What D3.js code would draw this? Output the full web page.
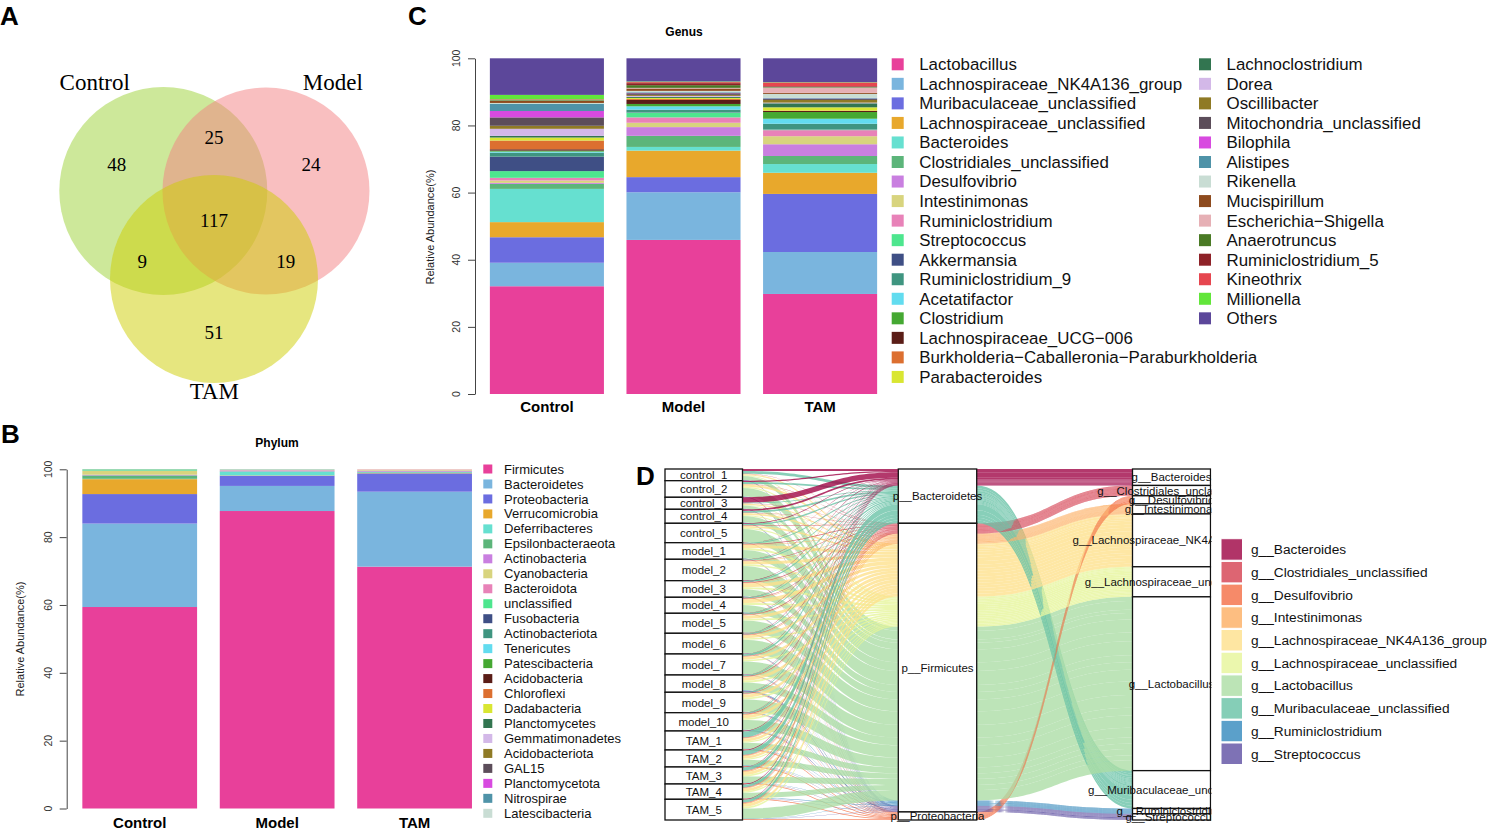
<!DOCTYPE html>
<html>
<head>
<meta charset="utf-8">
<script src="https://cdn.jsdelivr.net/npm/d3@7"></script>
<style>
body{margin:0;background:#fff;}
svg{display:block;font-family:"Liberation Sans",Arial,Helvetica,sans-serif;}
</style>
</head>
<body>
<div id="fig"></div>
<script>
// ---------------- data ----------------
// A: venn
var vennSets = ["Control","Model","TAM"];
var vennRegions = ["C","CM","M","CMT","CT","MT","T"];
var vennCounts = [48,25,24,117,9,19,51];

// B + C: stacked bars
var groups = ["Control","Model","TAM"];

var phylumNames = ["Firmicutes","Bacteroidetes","Proteobacteria","Verrucomicrobia","Deferribacteres","Epsilonbacteraeota","Actinobacteria","Cyanobacteria","Bacteroidota","unclassified","Fusobacteria","Actinobacteriota","Tenericutes","Patescibacteria","Acidobacteria","Chloroflexi","Dadabacteria","Planctomycetes","Gemmatimonadetes","Acidobacteriota","GAL15","Planctomycetota","Nitrospirae","Latescibacteria"];
var phylumControl = [59.4,24.6,8.7,4.4,0.1,1.0,0.2,1.1,0.1,0.2,0,0,0.1,0.1,0,0,0,0,0,0,0,0,0,0];
var phylumModel   = [87.7,7.4,3.0,0.1,1.1,0.1,0.3,0.1,0.1,0.1,0,0,0,0,0,0,0,0,0,0,0,0,0,0];
var phylumTAM     = [71.3,22.1,5.4,0.1,0.2,0.2,0.3,0.3,0.1,0,0,0,0,0,0,0,0,0,0,0,0,0,0,0];

var genusNames = ["Lactobacillus","Lachnospiraceae_NK4A136_group","Muribaculaceae_unclassified","Lachnospiraceae_unclassified","Bacteroides","Clostridiales_unclassified","Desulfovibrio","Intestinimonas","Ruminiclostridium","Streptococcus","Akkermansia","Ruminiclostridium_9","Acetatifactor","Clostridium","Lachnospiraceae_UCG\u2212006","Burkholderia\u2212Caballeronia\u2212Paraburkholderia","Parabacteroides","Lachnoclostridium","Dorea","Oscillibacter","Mitochondria_unclassified","Bilophila","Alistipes","Rikenella","Mucispirillum","Escherichia\u2212Shigella","Anaerotruncus","Ruminiclostridium_5","Kineothrix","Millionella","Others"];
var genusControl = [32.1,7.0,7.6,4.5,9.9,1.5,0.3,0.7,0.8,2.0,4.3,1.2,0.3,0.3,0.4,2.6,0.9,0.5,2.1,0.9,2.5,1.9,2.1,0.3,0.6,0.1,0.2,0.1,0.1,1.3,10.9];
var genusModel   = [45.9,14.2,4.5,7.9,1.1,3.3,2.6,1.3,1.6,1.4,0.1,0.8,1.0,0.7,1.2,0.3,0.3,0.3,0.3,0.3,0.5,0.1,0.2,0.4,0.7,0.2,0.8,0.6,0.3,0.2,6.9];
var genusTAM     = [29.8,12.5,17.3,6.3,2.6,2.4,3.5,2.4,1.8,0.2,0.1,1.6,1.5,2.0,0.3,0.1,1.0,1.2,0.2,0.8,0.3,0.1,0.2,1.2,0.3,1.6,0.2,0.2,1.1,0.1,7.1];

var palette = ["#e8409a","#7ab5de","#6b6de0","#e8a82c","#66e0d0","#5cb57a","#c97fe0","#d8d47e","#e882b8","#4de68e","#3f4f85","#3f9580","#62dcef","#45a832","#5a1d17","#dc6f30","#d9e632","#327550","#d3b8e8","#8f7a25","#5c4d5a","#d84ae0","#4f93a8","#c9ddd4","#8e4b1e","#e6b0b5","#4a7a25","#8e2228","#e6464f","#62e63a","#5c479a"];

// D: alluvial sample -> phylum -> genus
var samples = ["control_1","control_2","control_3","control_4","control_5","model_1","model_2","model_3","model_4","model_5","model_6","model_7","model_8","model_9","model_10","TAM_1","TAM_2","TAM_3","TAM_4","TAM_5"];
var flowGenera = ["Bacteroides","Clostridiales_unclassified","Desulfovibrio","Intestinimonas","Lachnospiraceae_NK4A136_group","Lachnospiraceae_unclassified","Lactobacillus","Muribaculaceae_unclassified","Ruminiclostridium","Streptococcus"];
var flowPhylum = ["Bacteroidetes","Firmicutes","Proteobacteria","Firmicutes","Firmicutes","Firmicutes","Firmicutes","Bacteroidetes","Firmicutes","Firmicutes"];
var phylaD = ["Bacteroidetes","Firmicutes","Proteobacteria"];
// rows = samples, columns = flowGenera (%)
var sampleAbund = [
  [8.5,1.2,0.2,0.6,5.1,3.2,18.4,12.6,0.9,1.5],
  [6.2,1.8,0.4,0.9,9.5,5.6,38.7,8.4,0.7,1.9],
  [24.3,1.1,0.3,0.5,4.8,2.9,14.6,3.2,0.6,1.3],
  [7.4,1.6,0.2,0.8,7.3,4.7,29.5,7.9,1.0,2.1],
  [3.1,1.8,0.4,0.7,8.2,6.1,58.3,5.9,0.8,1.3],
  [0.8,2.9,1.5,2.4,13.6,8.2,38.5,4.3,0.9,1.0],
  [1.2,2.6,1.4,2.1,12.8,7.1,62.4,3.9,0.8,1.2],
  [1.6,3.4,2.8,2.9,15.9,9.3,31.2,5.1,1.1,0.8],
  [0.9,2.7,1.6,2.2,16.4,8.7,33.5,3.6,1.0,0.8],
  [1.0,2.5,1.9,2.6,14.1,7.6,53.2,4.4,0.9,1.1],
  [1.3,2.4,1.2,2.3,11.8,6.9,60.1,4.2,1.0,1.2],
  [1.1,2.3,1.3,2.5,12.6,7.3,56.8,7.4,1.2,1.3],
  [1.4,3.1,2.4,2.8,14.3,8.4,34.6,3.8,2.7,3.7],
  [0.9,2.2,1.7,2.4,13.9,7.8,54.9,4.6,1.2,1.5],
  [0.8,2.9,2.2,2.8,13.7,7.9,43.6,4.6,1.2,2.0],
  [2.4,2.1,3.2,3.4,11.8,6.2,26.5,26.8,1.5,0.9],
  [2.9,2.4,3.6,3.1,10.9,5.8,24.7,19.5,1.8,1.2],
  [2.1,2.5,3.1,3.6,13.4,7.1,27.3,14.2,1.6,1.0],
  [3.3,2.2,3.4,2.9,12.6,6.4,22.8,12.1,1.5,1.1],
  [2.3,2.3,3.2,3.5,13.3,7.0,46.2,12.4,1.4,0.8]
];
var spectral = ["#9E0142","#D53E4F","#F46D43","#FDAE61","#FEE08B","#E6F598","#ABDDA4","#66C2A5","#3288BD","#5E4FA2"];

// ---------------- svg ----------------
var svg = d3.select("#fig").append("svg").attr("width",1490).attr("height",831);

// panel letters
var letters = [["A",0,25],["B",1,443],["C",408,25],["D",636,485]];
svg.selectAll("text.letter").data(letters).join("text")
  .attr("class","letter").text(d => d[0]).attr("x", d => d[1]).attr("y", d => d[2])
  .attr("font-size",26).attr("font-weight","bold");

// ---- A: venn ----
var gA = svg.append("g").attr("font-family","'Liberation Serif','Times New Roman',serif");
var circles = [
  {set:"Control", cx:163.3, cy:191, r:104,   fill:"#9bd135"},
  {set:"Model",   cx:266,   cy:191, r:103.5, fill:"#f37f81"},
  {set:"TAM",     cx:214,   cy:279, r:104,   fill:"#cdcd00"}
];
gA.selectAll("circle").data(circles).join("circle")
  .attr("cx", d => d.cx).attr("cy", d => d.cy).attr("r", d => d.r)
  .attr("fill", d => d.fill).attr("fill-opacity",0.5);
var setLabelPos = {Control:[94.7,89.5], Model:[332.8,89.5], TAM:[214.3,399]};
gA.selectAll("text.set").data(vennSets).join("text").attr("class","set")
  .text(d => d).attr("x", d => setLabelPos[d][0]).attr("y", d => setLabelPos[d][1])
  .attr("text-anchor","middle").attr("font-size",23);
var regionPos = {C:[116.7,164.3], CM:[214,137.7], M:[311,164.3], CMT:[214,220.3], CT:[142.3,261.7], MT:[285.7,261.7], T:[214,332.7]};
gA.selectAll("text.cnt").data(vennRegions).join("text").attr("class","cnt")
  .text((d,i) => vennCounts[i]).attr("x", d => regionPos[d][0]).attr("y", d => regionPos[d][1])
  .attr("dy","0.35em").attr("text-anchor","middle").attr("font-size",19);

// ---- stacked bar helper (B and C) ----
function stackedBars(g, names, values, xRange, yRange, axisX, tickX, labelX, labelY, catY){
  var x = d3.scaleBand().domain(groups).range(xRange).paddingInner(0.165).paddingOuter(0.0825);
  var y = d3.scaleLinear().domain([0,100]).range(yRange);
  var rows = groups.map(function(grp,i){
    var o = {group:grp};
    names.forEach(function(n,j){ o[n] = values[i][j]; });
    return o;
  });
  var series = d3.stack().keys(names)(rows);
  g.append("g").selectAll("g").data(series).join("g")
    .attr("fill", (d,i) => palette[i])
    .selectAll("rect").data(d => d).join("rect")
    .attr("x", d => x(d.data.group)).attr("width", x.bandwidth())
    .attr("y", d => y(d[1])).attr("height", d => Math.max(0, y(d[0]) - y(d[1])));

  // y axis
  var ticks = [0,20,40,60,80,100];
  var ax = g.append("g").attr("transform","translate("+axisX+",0)")
    .call(d3.axisLeft(y).tickValues(ticks).tickSize(7).tickSizeOuter(0).tickFormat(""));
  ax.select(".domain").attr("stroke","#444");
  ax.selectAll(".tick line").attr("stroke","#444");
  g.selectAll("text.yt").data(ticks).join("text").attr("class","yt")
    .text(d => d)
    .attr("transform", d => "translate("+tickX+","+y(d)+") rotate(-90)")
    .attr("dy","0.35em").attr("text-anchor","middle").attr("font-size",10.5).attr("fill","#333");
  g.append("text").text("Relative Abundance(%)")
    .attr("transform","translate("+labelX+","+labelY+") rotate(-90)")
    .attr("dy","0.35em").attr("text-anchor","middle").attr("font-size",11).attr("fill","#222");
  // categories
  g.selectAll("text.cat").data(groups).join("text").attr("class","cat")
    .text(d => d).attr("x", d => x(d) + x.bandwidth()/2).attr("y", catY)
    .attr("text-anchor","middle").attr("font-size",15).attr("font-weight","bold");
}

// ---- B: phylum ----
var gB = svg.append("g");
stackedBars(gB, phylumNames, [phylumControl, phylumModel, phylumTAM], [71,483.3], [808.5,469.3], 66.7, 48, 20, 639, 828);
gB.append("text").text("Phylum").attr("x",277).attr("y",447).attr("text-anchor","middle")
  .attr("font-size",12).attr("font-weight","bold");
var legB = gB.append("g").selectAll("g").data(phylumNames).join("g")
  .attr("transform", (d,i) => "translate(483.3,"+(469 + i*14.97)+")");
legB.append("rect").attr("x",0).attr("y",-4.5).attr("width",9).attr("height",9).attr("fill",(d,i) => palette[i]);
legB.append("text").text(d => d).attr("x",20.7).attr("dy","0.35em").attr("font-size",13).attr("fill","#111");

// ---- C: genus ----
var gC = svg.append("g");
stackedBars(gC, genusNames, [genusControl, genusModel, genusTAM], [478.6,888.4], [394,58.3], 475, 456, 430, 227, 412);
gC.append("text").text("Genus").attr("x",684).attr("y",36).attr("text-anchor","middle")
  .attr("font-size",12).attr("font-weight","bold");
var legC = gC.append("g").selectAll("g").data(genusNames).join("g")
  .attr("transform", function(d,i){
    var col = i < 17 ? 0 : 1, row = i < 17 ? i : i - 17;
    return "translate("+(col ? 1199 : 891.7)+","+(64.3 + row*19.54)+")";
  });
legC.append("rect").attr("x",0).attr("y",-6).attr("width",12).attr("height",12).attr("fill",(d,i) => palette[i]);
legC.append("text").text(d => d).attr("x",27.5).attr("dy","0.35em").attr("font-size",16.9).attr("fill","#111");

// ---- D: alluvial ----
var gD = svg.append("g");
var total = d3.sum(sampleAbund, r => d3.sum(r));
var yD = d3.scaleLinear().domain([0,total]).range([469,820]);
var colD = d3.scaleOrdinal().domain(flowGenera).range(spectral);
var axX = {s:[665,742.5], p:[898.3,976.7], g:[1132.5,1210.5]};

// lodes at sample axis: phylum first, then genus
var genusOrderS = d3.range(flowGenera.length).sort((a,b) =>
  (phylaD.indexOf(flowPhylum[a]) - phylaD.indexOf(flowPhylum[b])) || (a - b));
var alluvia = [];
var cum = 0, sampleNodes = [];
samples.forEach(function(s,i){
  var start = cum;
  genusOrderS.forEach(function(j){
    var v = sampleAbund[i][j];
    if(v > 0){ alluvia.push({s:i, g:j, v:v, a:cum}); }
    cum += v;
  });
  sampleNodes.push({name:s, y0:start, y1:cum});
});
function findA(i,j){ return alluvia.find(a => a.s === i && a.g === j); }
// phylum axis: genus, then sample
cum = 0;
var phylumNodes = [];
phylaD.forEach(function(p){
  var start = cum;
  flowGenera.forEach(function(gn,j){
    if(flowPhylum[j] !== p) return;
    samples.forEach(function(s,i){
      var a = findA(i,j);
      if(a){ a.p = cum; cum += a.v; }
    });
  });
  phylumNodes.push({name:p, y0:start, y1:cum});
});
// genus axis: sample order
cum = 0;
var genusNodes = [];
flowGenera.forEach(function(gn,j){
  var start = cum;
  samples.forEach(function(s,i){
    var a = findA(i,j);
    if(a){ a.q = cum; cum += a.v; }
  });
  genusNodes.push({name:gn, y0:start, y1:cum});
});

function ribbon(x0, x1, t0, t1, v){
  var xm = (x0 + x1)/2;
  var a0 = yD(t0), a1 = yD(t0 + v), b0 = yD(t1), b1 = yD(t1 + v);
  return "M"+x0+","+a0+"C"+xm+","+a0+" "+xm+","+b0+" "+x1+","+b0+
         "L"+x1+","+b1+"C"+xm+","+b1+" "+xm+","+a1+" "+x0+","+a1+"Z";
}
var flows = gD.append("g");
flows.selectAll("path.f1").data(alluvia).join("path").attr("class","f1")
  .attr("d", d => ribbon(axX.s[1], axX.p[0], d.a, d.p, d.v))
  .attr("fill", d => colD(flowGenera[d.g])).attr("fill-opacity",0.78);
flows.selectAll("path.f2").data(alluvia).join("path").attr("class","f2")
  .attr("d", d => ribbon(axX.p[1], axX.g[0], d.p, d.q, d.v))
  .attr("fill", d => colD(flowGenera[d.g])).attr("fill-opacity",0.78);

gD.append("clipPath").attr("id","clipD").append("rect")
  .attr("x",600).attr("y",440).attr("width",611.5).attr("height",400);

function strata(nodes, xs, prefix, clip){
  var g = gD.append("g");
  if(clip) g.attr("clip-path","url(#clipD)");
  g.selectAll("rect").data(nodes).join("rect")
    .attr("x", xs[0]).attr("width", xs[1]-xs[0])
    .attr("y", d => yD(d.y0)).attr("height", d => yD(d.y1) - yD(d.y0))
    .attr("fill","#fff").attr("stroke","#111").attr("stroke-width",1.3);
  g.selectAll("text").data(nodes).join("text")
    .text(d => prefix + d.name)
    .attr("x",(xs[0]+xs[1])/2).attr("y", d => (yD(d.y0)+yD(d.y1))/2)
    .attr("dy","0.35em").attr("text-anchor","middle").attr("font-size",11.5).attr("fill","#111");
}
strata(sampleNodes, axX.s, "", false);
strata(phylumNodes, axX.p, "p__", false);
strata(genusNodes, axX.g, "g__", true);

// D legend
var legD = gD.append("g").selectAll("g").data(flowGenera).join("g")
  .attr("transform", (d,i) => "translate(1221,"+(538.7 + i*22.7)+")");
legD.append("rect").attr("width",21.5).attr("height",21.5)
  .attr("fill", d => colD(d)).attr("fill-opacity",0.8).attr("stroke","#fff");
legD.append("text").text(d => "g__" + d).attr("x",30).attr("y",10.75)
  .attr("dy","0.35em").attr("font-size",13.7).attr("fill","#111");
</script>
</body>
</html>
